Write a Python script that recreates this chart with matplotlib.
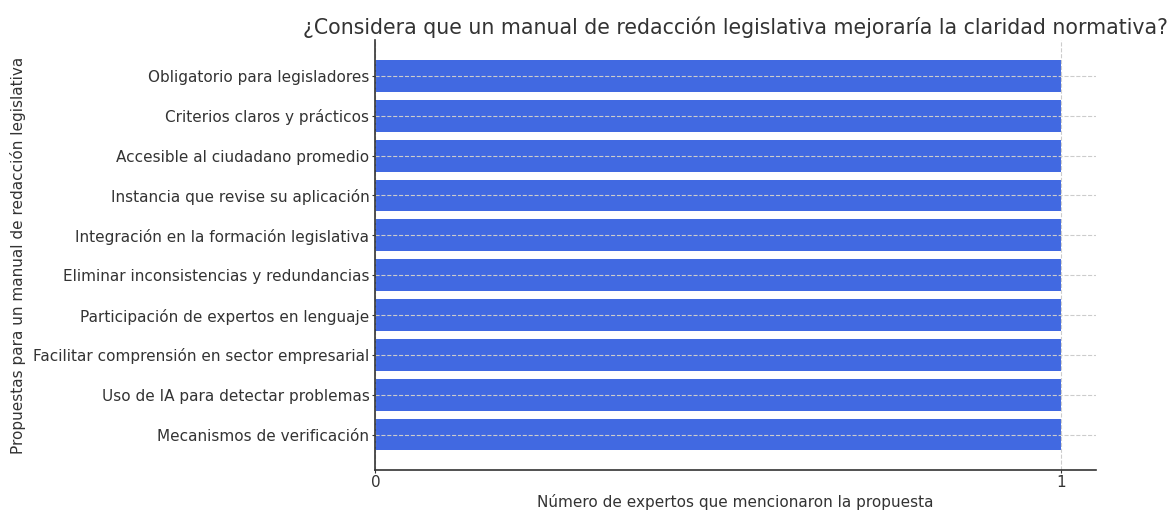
import matplotlib.pyplot as plt

propuestas = [
    "Obligatorio para legisladores",
    "Criterios claros y prácticos",
    "Accesible al ciudadano promedio",
    "Instancia que revise su aplicación",
    "Integración en la formación legislativa",
    "Eliminar inconsistencias y redundancias",
    "Participación de expertos en lenguaje",
    "Facilitar comprensión en sector empresarial",
    "Uso de IA para detectar problemas",
    "Mecanismos de verificación",
]
menciones = [1, 1, 1, 1, 1, 1, 1, 1, 1, 1]

text_color = "#333333"
plt.rcParams["text.color"] = text_color
plt.rcParams["axes.labelcolor"] = text_color
plt.rcParams["xtick.color"] = text_color
plt.rcParams["ytick.color"] = text_color

fig = plt.figure(figsize=(11.73, 5.12), dpi=100)
ax = fig.add_axes([0.32, 0.082, 0.614, 0.839])

ax.barh(propuestas, menciones, color="royalblue", height=0.8, zorder=2)
ax.invert_yaxis()

ax.set_xticks([0, 1])
ax.set_title("¿Considera que un manual de redacción legislativa mejoraría la claridad normativa?",
             fontsize=14.8, pad=5)
ax.set_xlabel("Número de expertos que mencionaron la propuesta", fontsize=11, labelpad=3)
ax.set_ylabel("Propuestas para un manual de redacción legislativa", fontsize=11, labelpad=5)
ax.tick_params(labelsize=11, length=2.5, pad=1.8)
ax.tick_params(axis="x", pad=1)

ax.grid(True, linestyle="--", color="#cccccc", linewidth=0.8, zorder=3)
ax.set_axisbelow(False)
for side in ["top", "right"]:
    ax.spines[side].set_visible(False)
for side in ["left", "bottom"]:
    ax.spines[side].set_color(text_color)
    ax.spines[side].set_linewidth(1.2)
    ax.spines[side].set_zorder(4)

fig.savefig("out.png", dpi=100)
